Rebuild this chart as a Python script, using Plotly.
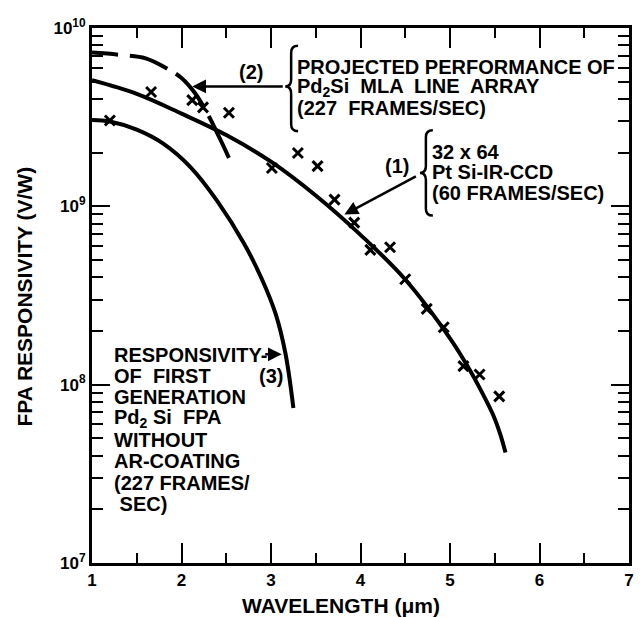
import plotly.graph_objects as go

# ---------------- data ----------------
# Curve (1): 32x64 PtSi IR-CCD, solid
c1_x = [1.0, 1.5, 2.0, 2.5, 3.0, 3.5, 4.0, 4.5, 5.0, 5.2, 5.35, 5.48, 5.56, 5.62]
c1_y = [5.09e9, 4.27e9, 3.31e9, 2.51e9, 1.78e9, 1.15e9, 6.92e8, 3.89e8, 1.82e8, 1.26e8, 9.2e7,
        6.8e7, 5.3e7, 4.17e7]

# Curve (2): projected Pd2Si MLA line array, dashed
c2_x = [1.0, 1.3, 1.6, 1.84, 2.0, 2.15, 2.3, 2.42, 2.53]
c2_y = [7.28e9, 7.08e9, 6.76e9, 5.92e9, 5.25e9, 4.32e9, 3.24e9, 2.45e9, 1.87e9]

# Curve (3): first generation Pd2Si FPA, solid
c3_x = [1.0, 1.2, 1.5, 1.8, 2.1, 2.4, 2.7, 2.9, 3.05, 3.16, 3.25]
c3_y = [3.05e9, 2.99e9, 2.69e9, 2.24e9, 1.66e9, 1.07e9, 6.17e8, 3.89e8, 2.51e8, 1.51e8, 7.41e7]

# Measured points (x marks)
pts_x = [1.2, 1.66, 2.12, 2.24, 2.53, 3.01, 3.30, 3.52, 3.71, 3.93, 4.11, 4.33, 4.50, 4.74, 4.93, 5.15, 5.33, 5.55]
pts_y = [3.03e9, 4.38e9, 3.94e9, 3.59e9, 3.35e9, 1.64e9, 1.99e9, 1.68e9, 1.09e9, 8.1e8, 5.7e8, 5.9e8,
         3.9e8, 2.66e8, 2.1e8, 1.27e8, 1.14e8, 8.6e7]

# Axes / ticks
x_range = [1, 7]
y_range_log = [7, 10]
y_tickvals = [1e7, 1e8, 1e9, 1e10]
y_ticktext = ["10<sup>7</sup>", "10<sup>8</sup>", "10<sup>9</sup>", "10<sup>10</sup>"]
y_minor = [k * 10 ** e for e in (7, 8, 9) for k in range(2, 10)]

# Texts
block2 = ["PROJECTED PERFORMANCE OF", "Pd<sub>2</sub>Si  MLA  LINE  ARRAY", "(227  FRAMES/SEC)"]
block1 = ["32 x 64", "Pt Si-IR-CCD", "(60 FRAMES/SEC)"]
block3 = ["RESPONSIVITY-", "OF  FIRST", "GENERATION", "Pd<sub>2</sub> Si  FPA", "WITHOUT",
          "AR-COATING", "(227 FRAMES/", " SEC)"]

# ---------------- layout geometry ----------------
# The page body adds an 8 px offset, so the figure is made 8 px smaller.
OFF = 8
W, H = 642 - OFF, 617 - OFF
# plot area as seen on screen (reference pixels)
L, R, T, B = 92, 634, 24, 563
FONT = "Liberation Sans, Arial, sans-serif"


def px(x):
    return (x - L) / (R - L)


def py(y):
    return (B - y) / (B - T)


fig = go.Figure()
fig.add_trace(go.Scatter(x=c1_x, y=c1_y, mode="lines", line=dict(color="black", width=4, shape="spline"),
                         showlegend=False, hoverinfo="skip"))
fig.add_trace(go.Scatter(x=c2_x, y=c2_y, mode="lines",
                         line=dict(color="black", width=4, shape="spline",
                                   dash="26px,12px,40px,10px,44px,10px,60px,10px"),
                         showlegend=False, hoverinfo="skip"))
fig.add_trace(go.Scatter(x=c3_x, y=c3_y, mode="lines", line=dict(color="black", width=4, shape="spline"),
                         showlegend=False, hoverinfo="skip"))
fig.add_trace(go.Scatter(x=pts_x, y=pts_y, mode="markers",
                         marker=dict(symbol="x-thin", size=10, line=dict(color="black", width=3)),
                         showlegend=False, hoverinfo="skip"))

annotations = []
TF = dict(family=FONT, size=20, color="black", weight="bold")


def text(xp, yp, s, anchor="left", font=TF):
    annotations.append(dict(x=px(xp), y=py(yp), xref="paper", yref="paper", text=s, showarrow=False,
                            xanchor=anchor, yanchor="middle", font=font))


for i, s in enumerate(block2):
    text(297, 63 + i * 21, s)
for i, s in enumerate(block1):
    text(433, 149 + i * 20.5, s)
for i, s in enumerate(block3):
    text(112, 353 + i * 21.5, s)
text(252, 68, "(2)", "center")
text(400, 163, "(1)", "center")
text(273, 375, "(3)", "center")

# axis titles
annotations.append(dict(x=px(343), y=py(606), xref="paper", yref="paper", text="WAVELENGTH (\u03bcm)",
                        showarrow=False, xanchor="center", yanchor="middle",
                        font=dict(family=FONT, size=21, color="black", weight="bold")))
annotations.append(dict(x=px(24), y=py(295), xref="paper", yref="paper", text="FPA RESPONSIVITY (V/W)",
                        showarrow=False, xanchor="center", yanchor="middle", textangle=-90,
                        font=dict(family=FONT, size=21, color="black", weight="bold")))


# arrows: tip in data coordinates, tail as pixel offsets
def arrow(tx, ty_log, ax, ay):
    annotations.append(dict(x=tx, y=ty_log, xref="x", yref="y", text="", showarrow=True, ax=ax, ay=ay,
                            arrowhead=2, arrowsize=1.1, arrowwidth=2.5, arrowcolor="black", standoff=0))


arrow(2.12, 9.672, 92, 0)
arrow(3.82, 8.954, 73, -39)
arrow(3.12, 8.17, -18, 0)

fig.update_layout(annotations=annotations)


# braces
def brace(xs, yt, ym, yb, tip=6, curl=7, r=7):
    pts = [
        ("M", (xs + curl, yt)),
        ("Q", (xs, yt), (xs, yt + r)),
        ("L", (xs, ym - r)),
        ("Q", (xs, ym), (xs - tip, ym)),
        ("Q", (xs, ym), (xs, ym + r)),
        ("L", (xs, yb - r)),
        ("Q", (xs, yb), (xs + curl, yb)),
    ]
    out = []
    for seg in pts:
        cmd = seg[0]
        coords = " ".join(f"{px(a):.5f},{py(b):.5f}" for a, b in seg[1:])
        out.append(f"{cmd} {coords}")
    return " ".join(out)


shapes = [
    dict(type="path", xref="paper", yref="paper", path=brace(293, 42, 83, 128),
         line=dict(color="black", width=2.5)),
    dict(type="path", xref="paper", yref="paper", path=brace(429, 127, 170, 213),
         line=dict(color="black", width=2.5)),
]
fig.update_layout(shapes=shapes)

fig.update_layout(
    width=W, height=H,
    margin=dict(l=L - OFF, r=W - (R - OFF), t=T - OFF, b=H - (B - OFF), pad=0),
    paper_bgcolor="white", plot_bgcolor="white",
    showlegend=False,
    xaxis=dict(range=x_range, showgrid=False, zeroline=False, showline=True, linewidth=3, linecolor="black",
               mirror="allticks", ticks="inside", ticklen=20, tickwidth=2, tickcolor="black",
               tick0=1, dtick=1,
               minor=dict(ticks="inside", ticklen=10, tickwidth=2, tickcolor="black", tick0=1, dtick=0.5,
                          showgrid=False),
               tickfont=dict(family=FONT, size=17, color="black", weight="bold")),
    yaxis=dict(type="log", range=y_range_log, showgrid=False, zeroline=False, showline=True, linewidth=3,
               linecolor="black", mirror="allticks", ticks="inside", ticklen=18, tickwidth=2,
               tickcolor="black", tickmode="array", tickvals=y_tickvals, ticktext=y_ticktext,
               minor=dict(ticks="inside", ticklen=11, tickwidth=2, tickcolor="black", tickmode="array",
                          tickvals=y_minor, showgrid=False),
               tickfont=dict(family=FONT, size=17, color="black", weight="bold")),
)

fig.write_html("out.html")
